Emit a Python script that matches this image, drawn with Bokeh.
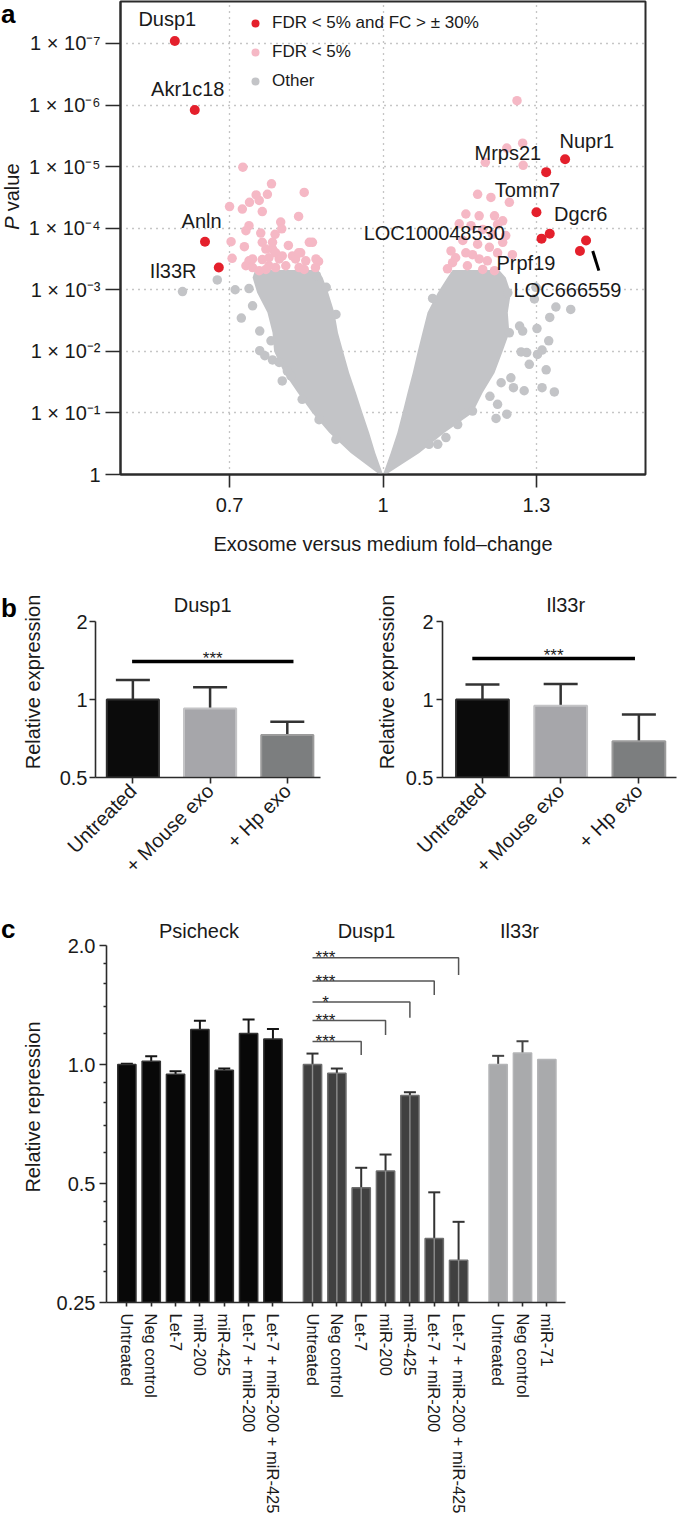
import math
from bokeh.plotting import figure
from bokeh.models import (Range1d, FixedTicker, Legend, LegendItem, Whisker,
                          TeeHead, ColumnDataSource)
from bokeh.layouts import column, row
from bokeh.embed import file_html
from bokeh.resources import INLINE
from bokeh.core.properties import value

FONT = "Liberation Sans"
RED = "#e4202c"
PINK = "#f5b8c5"
GRAY = "#c3c4c7"
AXIS = "#2b2b2b"
TXT = "#1a1a1a"

# ---------------- Panel a data (fold change, -log10 P) ----------------
red_gene = ["Dusp1", "Akr1c18", "Anln", "Il33R", "Nupr1", "Mrps21", "Tomm7",
            "Dgcr6", "LOC100048530", "Prpf19", "LOC666559"]
red_fc = [0.593, 0.632, 0.652, 0.679, 1.356, 1.319, 1.300, 1.326, 1.310, 1.385, 1.397]
red_mlog10p = [7.04, 5.92, 3.78, 3.36, 5.12, 4.91, 4.26, 3.91, 3.83, 3.63, 3.80]

pink_fc = [0.726, 0.782, 0.846, 0.774, 0.752, 0.739, 0.758, 0.700, 0.725, 0.764,
           0.835, 0.800, 0.738, 0.732, 0.802, 0.789, 0.761, 0.703, 0.729, 0.815,
           0.856, 0.705, 0.738, 0.764, 0.784, 0.797, 0.823, 0.839, 0.874, 0.849,
           0.732, 0.745, 0.777, 0.810, 0.836, 0.758, 0.771, 0.790, 0.803, 0.777,
           0.829, 0.862, 0.764, 0.784, 0.790, 0.846, 0.868, 0.771, 0.745, 0.869,
           0.835,
           1.262, 1.242, 1.273, 1.200, 1.274, 1.185, 1.211, 1.247, 1.162, 1.188,
           1.218, 1.234, 1.149, 1.172, 1.195, 1.214, 1.240, 1.156, 1.185, 1.208,
           1.133, 1.162, 1.188, 1.136, 1.165, 1.195, 1.218, 1.126, 1.224, 1.234,
           1.253, 1.142, 1.175, 1.204, 1.224]
pink_mlog10p = [4.99, 4.72, 4.58, 4.55, 4.54, 4.42, 4.45, 4.35, 4.31, 4.27,
                4.19, 4.10, 4.04, 3.96, 3.99, 3.90, 3.92, 3.78, 3.70, 3.72,
                3.77, 3.51, 3.47, 3.49, 3.66, 3.50, 3.55, 3.60, 3.46, 3.47,
                3.39, 3.36, 3.39, 3.39, 3.36, 3.31, 3.66, 3.60, 3.55, 3.52,
                3.50, 3.77, 3.77, 3.77, 3.36, 3.33, 3.36, 3.33, 3.50, 3.50,
                3.60,
                6.07, 5.30, 5.38, 5.07, 5.02, 4.55, 4.50, 4.42, 4.23, 4.20,
                4.20, 4.12, 4.07, 4.04, 3.98, 3.90, 3.88, 3.80, 3.74, 3.69,
                3.63, 3.60, 3.50, 3.44, 3.39, 3.33, 3.31, 3.34, 3.60, 3.77,
                3.57, 3.52, 3.57, 3.47, 4.06]

# sparse "Other" genes around the dense cloud
gray_fc = [0.608, 0.676, 0.711, 0.738, 0.745, 0.723, 0.759, 0.759, 0.769, 0.784,
           0.781, 0.803, 0.820, 0.908, 0.889, 0.870, 0.797, 0.813, 0.842, 0.875, 0.908,
           1.097, 1.338, 1.367, 1.326, 1.301, 1.324, 1.302, 1.286, 1.319, 1.335,
           1.311, 1.276, 1.255, 1.250, 1.231, 1.224, 1.242, 1.221, 1.209, 1.267,
           1.247, 1.270, 1.123, 1.107, 1.090, 1.156, 1.175, 1.146, 1.296, 1.244,
           1.299, 1.311, 1.281, 1.273]
gray_mlog10p = [2.97, 3.16, 3.00, 3.02, 2.74, 2.54, 2.33, 2.01, 1.93, 1.86,
                2.17, 1.52, 1.60, 2.60, 3.04, 3.23, 1.82, 1.68, 1.22, 0.89, 0.57,
                2.86, 2.72, 2.68, 2.55, 2.37, 2.17, 1.95, 1.79, 1.70, 1.34,
                1.41, 1.36, 1.41, 1.57, 1.49, 1.14, 0.98, 0.91, 1.27, 2.41,
                2.30, 1.99, 0.60, 0.49, 0.49, 1.00, 1.03, 0.81, 2.85, 2.95,
                3.04, 2.02, 1.98, 2.33]

# dense core of the "Other" cloud: edges of each arm at given -log10 P
core_mlog10p = [0.0, 0.35, 0.68, 1.0, 1.33, 1.65, 2.0, 2.3, 2.63, 2.95, 3.2, 3.32]
core_left_lo = [0.993, 0.937, 0.895, 0.862, 0.833, 0.807, 0.787, 0.784, 0.774, 0.754, 0.745, 0.750]
core_left_hi = [1.000, 0.985, 0.973, 0.960, 0.947, 0.934, 0.922, 0.912, 0.905, 0.893, 0.882, 0.872]
core_right_lo = [1.000, 1.015, 1.028, 1.038, 1.048, 1.058, 1.068, 1.077, 1.087, 1.107, 1.126, 1.136]
core_right_hi = [1.006, 1.071, 1.120, 1.175, 1.195, 1.218, 1.234, 1.247, 1.244, 1.250, 1.240, 1.227]

leader_fc = [1.410, 1.422]
leader_mlog10p = [3.63, 3.31]

a_xticks = [0.7, 1.0, 1.3]
a_xtick_labels = ["0.7", "1", "1.3"]
a_yticks = [0, 1, 2, 3, 4, 5, 6, 7]
a_ytick_labels = ["1", "1 \u00d7 10\u207b\u00b9", "1 \u00d7 10\u207b\u00b2", "1 \u00d7 10\u207b\u00b3",
                  "1 \u00d7 10\u207b\u2074", "1 \u00d7 10\u207b\u2075", "1 \u00d7 10\u207b\u2076",
                  "1 \u00d7 10\u207b\u2077"]
legend_labels = ["FDR < 5% and FC > \u00b1 30%", "FDR < 5%", "Other"]

# ---------------- Panel b data ----------------
b_categories = ["Untreated", "+ Mouse exo", "+ Hp exo"]
b_dusp1_mean = [1.0, 0.923, 0.730]
b_dusp1_upper = [1.19, 1.116, 0.822]
b_il33r_mean = [1.0, 0.946, 0.690]
b_il33r_upper = [1.143, 1.149, 0.875]
b_sig_text = "***"

# ---------------- Panel c data ----------------
c_groups = ["Psicheck", "Dusp1", "Il33r"]
c_labels = [["Untreated", "Neg control", "Let-7", "miR-200", "miR-425",
             "Let-7 + miR-200", "Let-7 + miR-200 + miR-425"],
            ["Untreated", "Neg control", "Let-7", "miR-200", "miR-425",
             "Let-7 + miR-200", "Let-7 + miR-200 + miR-425"],
            ["Untreated", "Neg control", "miR-71"]]
c_mean = [[1.0, 1.02, 0.945, 1.226, 0.967, 1.198, 1.16],
          [1.0, 0.95, 0.488, 0.538, 0.835, 0.363, 0.32],
          [1.0, 1.07, 1.03]]
c_upper = [[1.005, 1.05, 0.962, 1.29, 0.977, 1.30, 1.23],
           [1.066, 0.977, 0.548, 0.592, 0.851, 0.475, 0.40],
           [1.052, 1.145, None]]
# significance brackets in the Dusp1 group: compared bar index, star text, line level, drop end
c_sig_target = [2, 3, 4, 5, 6]
c_sig_text = ["***", "***", "*", "***", "***"]
c_sig_level = [1.143, 1.292, 1.439, 1.626, 1.863]
c_sig_drop = [1.057, 1.188, 1.314, 1.499, 1.684]


def style_axis(ax, size="20px"):
    ax.axis_line_color = AXIS
    ax.axis_line_width = 1.6
    ax.major_tick_line_color = AXIS
    ax.major_tick_line_width = 1.6
    ax.minor_tick_line_color = None
    ax.major_tick_in = 0
    ax.major_label_text_font = FONT
    ax.major_label_text_font_size = size
    ax.major_label_text_color = TXT
    ax.axis_label_text_font = FONT
    ax.axis_label_text_font_size = "20px"
    ax.axis_label_text_font_style = "normal"
    ax.axis_label_text_color = TXT


def side_fig(w, h):
    """Narrow strip (coordinates in px, y downwards) holding a panel letter."""
    f = figure(width=w, height=h, x_range=Range1d(0, w), y_range=Range1d(h, 0),
               output_backend="svg", toolbar_location=None, min_border=0,
               x_axis_location=None, y_axis_location=None)
    f.outline_line_color = None
    f.xgrid.visible = False
    f.ygrid.visible = False
    return f


def add_letter(f, txt, baseline):
    f.text(x=[0.5], y=[baseline], text=[txt], text_font=value(FONT), text_font_size=value("26px"),
           text_font_style="bold", text_color="black", text_align="left", text_baseline="alphabetic")


# ======================= Panel a =======================
la = side_fig(24, 566)
add_letter(la, "a", 15)
la.text(x=[11], y=[273], text=["P"], angle=math.pi / 2, text_font=value(FONT),
        text_font_size=value("20px"), text_font_style="italic", text_color=TXT,
        text_align="left", text_baseline="middle")
la.text(x=[11], y=[251], text=["value"], angle=math.pi / 2, text_font=value(FONT),
        text_font_size=value("20px"), text_color=TXT, text_align="left", text_baseline="middle")

pa = figure(width=653, height=566, x_range=Range1d(0.4868, 1.5132), y_range=Range1d(0, 7.681),
            output_backend="svg", toolbar_location=None,
            min_border_left=96, min_border_right=32, min_border_top=1, min_border_bottom=92)
pa.outline_line_color = AXIS
pa.outline_line_width = 2
style_axis(pa.xaxis[0])
style_axis(pa.yaxis[0])
pa.xaxis.axis_line_width = 2
pa.yaxis.axis_line_width = 2
pa.xaxis.ticker = FixedTicker(ticks=a_xticks)
pa.xaxis.major_label_overrides = dict(zip(a_xticks, a_xtick_labels))
pa.xaxis.major_tick_out = 13
pa.xaxis.major_label_standoff = 10
pa.xaxis.axis_label = "Exosome versus medium fold\u2013change"
pa.xaxis.axis_label_standoff = 18
pa.yaxis.ticker = FixedTicker(ticks=a_yticks)
pa.yaxis.major_label_overrides = dict(zip(a_yticks, a_ytick_labels))
pa.yaxis.major_tick_out = 15
pa.yaxis.major_label_standoff = 5
pa.xgrid.ticker = FixedTicker(ticks=a_xticks)
pa.ygrid.ticker = FixedTicker(ticks=a_yticks[1:])
for g in (pa.xgrid[0], pa.ygrid[0]):
    g.grid_line_color = "#8c8c8c"
    g.grid_line_dash = "1 5"
    g.grid_line_width = 1.3

pa.harea(y=core_mlog10p, x1=core_left_lo, x2=core_left_hi, fill_color=GRAY)
pa.harea(y=core_mlog10p, x1=core_right_lo, x2=core_right_hi, fill_color=GRAY)
r_gray = pa.scatter(gray_fc, gray_mlog10p, size=9.5, fill_color=GRAY, line_color=None)
r_pink = pa.scatter(pink_fc, pink_mlog10p, size=9.5, fill_color=PINK, line_color=None)
r_red = pa.scatter(red_fc, red_mlog10p, size=10, fill_color=RED, line_color=None)
pa.line(leader_fc, leader_mlog10p, line_color="black", line_width=3)

# label offsets (px) relative to each labelled point
label_offsets = {"Dusp1": (-7.5, -22.3, "center"), "Akr1c18": (-7, -21, "center"),
                 "Anln": (-3.4, -20.3, "center"), "Il33R": (-22.3, 3.3, "right"),
                 "Nupr1": (21.7, -18.4, "center"), "Mrps21": (-38.3, -19, "center"),
                 "Tomm7": (-9, -21.7, "center"), "Dgcr6": (31, -19.3, "center"),
                 "LOC100048530": (-36.7, -6, "right"), "Prpf19": (-54, 11.7, "center"),
                 "LOC666559": (-18.6, 49.6, "center")}
for align in ("center", "right"):
    idx = [i for i, g in enumerate(red_gene) if label_offsets[g][2] == align]
    src = ColumnDataSource(dict(x=[red_fc[i] for i in idx], y=[red_mlog10p[i] for i in idx],
                                t=[red_gene[i] for i in idx],
                                dx=[label_offsets[red_gene[i]][0] for i in idx],
                                dy=[label_offsets[red_gene[i]][1] for i in idx]))
    pa.text(x="x", y="y", text="t", x_offset="dx", y_offset="dy", source=src,
            text_font=value(FONT), text_font_size=value("20px"), text_color=TXT,
            text_align=align, text_baseline="middle")

legend = Legend(items=[LegendItem(label=legend_labels[0], renderers=[r_red]),
                       LegendItem(label=legend_labels[1], renderers=[r_pink]),
                       LegendItem(label=legend_labels[2], renderers=[r_gray])],
                location=(125, 383), orientation="vertical")
legend.label_text_font = FONT
legend.label_text_font_size = "17px"
legend.label_text_color = TXT
legend.glyph_width = 20
legend.glyph_height = 20
legend.label_height = 20
legend.label_standoff = 7
legend.spacing = 9
legend.padding = 0
legend.margin = 0
legend.border_line_color = None
legend.background_fill_alpha = 0
pa.add_layout(legend)


# ======================= Panel b =======================
B_TOP = 2.736  # frame extends above the axis to hold the title


def make_b(title, mean, upper, width, left, right, xr, sig_span, sig_level, title_dx,
           label_standoff, tick_standoff):
    p = figure(width=width, height=330, x_range=Range1d(*xr), y_range=Range1d(0.5, B_TOP),
               y_axis_type="log", output_backend="svg", toolbar_location=None,
               min_border_left=left, min_border_right=right, min_border_top=20, min_border_bottom=119)
    p.outline_line_color = None
    p.xgrid.visible = False
    p.ygrid.visible = False
    style_axis(p.xaxis[0])
    style_axis(p.yaxis[0])
    xs = list(range(len(b_categories)))
    p.xaxis.ticker = FixedTicker(ticks=xs)
    p.xaxis.major_label_overrides = dict(zip(xs, b_categories))
    p.xaxis.major_label_orientation = math.pi / 4
    p.xaxis.major_tick_out = 6
    p.xaxis.major_label_standoff = 4
    p.yaxis.ticker = FixedTicker(ticks=[0.5, 1, 2])
    p.yaxis.bounds = (0.5, 2)
    p.yaxis.major_label_overrides = {0.5: "0.5", 1: "1", 2: "2"}
    p.yaxis.major_tick_out = 6
    p.yaxis.major_label_standoff = tick_standoff
    p.yaxis.axis_label = "Relative expression"
    p.yaxis.axis_label_standoff = label_standoff
    p.vbar(x=xs, top=mean, bottom=0.5, width=0.675,
           fill_color=["#0b0b0b", "#a6a6aa", "#7c7e7f"],
           line_color=["#2e2e2e", "#c4c4c6", "#9b9b9b"], line_width=2)
    src = ColumnDataSource(dict(base=xs, lower=mean, upper=upper))
    p.add_layout(Whisker(base="base", lower="lower", upper="upper", source=src,
                         line_color="#333333", line_width=2.5, lower_head=None,
                         upper_head=TeeHead(size=34, line_color="#333333", line_width=2.5)))
    p.line(sig_span, [sig_level, sig_level], line_color="black", line_width=3.5)
    p.text(x=[sum(sig_span) / 2], y=[sig_level], text=[b_sig_text], y_offset=-3,
           text_font=value(FONT), text_font_size=value("17px"), text_color=TXT,
           text_align="center", text_baseline="alphabetic")
    p.text(x=[1], y=[2], text=[title], x_offset=title_dx, y_offset=-16.4,
           text_font=value(FONT), text_font_size=value("20px"), text_color=TXT,
           text_align="center", text_baseline="alphabetic")
    return p


lb = side_fig(18, 330)
add_letter(lb, "b", 37.7)
pb1 = make_b("Dusp1", b_dusp1_mean, b_dusp1_upper, 319, 75, 17, (-0.484, 2.43),
             [-0.01, 2.08], 1.404, -7.4, 13, 2)
pb2 = make_b("Il33r", b_il33r_mean, b_il33r_upper, 340, 105, 1, (-0.511, 2.481),
             [-0.13, 1.95], 1.442, 5, 5, 3)

# ======================= Panel c =======================
GROUP_STEP = 7.625
C_TOP = 2.439  # frame extends above the axis to hold the titles
lc = side_fig(18, 620)
add_letter(lc, "c", 27.7)
pc = figure(width=659, height=620, x_range=Range1d(-0.836, 18.016), y_range=Range1d(0.25, C_TOP),
            y_axis_type="log", output_backend="svg", toolbar_location=None,
            min_border_left=87, min_border_right=112, min_border_top=15, min_border_bottom=213)
pc.outline_line_color = None
pc.xgrid.visible = False
pc.ygrid.visible = False
style_axis(pc.xaxis[0], "16.5px")
style_axis(pc.yaxis[0])

positions = [[g * GROUP_STEP + i for i in range(len(c_labels[g]))] for g in range(len(c_groups))]
all_pos = [x for grp in positions for x in grp]
all_lab = [l for grp in c_labels for l in grp]
pc.xaxis.ticker = FixedTicker(ticks=all_pos)
pc.xaxis.major_label_overrides = dict(zip(all_pos, all_lab))
pc.xaxis.major_label_orientation = "vertical"
pc.xaxis.major_tick_out = 4
pc.xaxis.major_label_standoff = 7
pc.yaxis.ticker = FixedTicker(ticks=[0.25, 0.5, 1, 2],
                              minor_ticks=[0.3, 0.35, 0.4, 0.45, 0.6, 0.7, 0.8, 0.9, 1.2, 1.4, 1.6, 1.8])
pc.yaxis.bounds = (0.25, 2)
pc.yaxis.major_label_overrides = {0.25: "0.25", 0.5: "0.5", 1: "1.0", 2: "2.0"}
pc.yaxis.major_tick_out = 7
pc.yaxis.minor_tick_out = 3
pc.yaxis.minor_tick_in = 0
pc.yaxis.minor_tick_line_color = AXIS
pc.yaxis.minor_tick_line_width = 1.3
pc.yaxis.major_label_standoff = 4
pc.yaxis.axis_label = "Relative repression"
pc.yaxis.axis_label_standoff = 10

bar_fill = ["#080808", "#404040", "#a9aaac"]
bar_line = ["#333333", "#6e6e6e", "#b4b5b7"]
err_col = ["#151515", "#333333", "#444444"]
for g in range(len(c_groups)):
    pc.vbar(x=positions[g], top=c_mean[g], bottom=0.25, width=0.75,
            fill_color=bar_fill[g], line_color=bar_line[g], line_width=1.5)
    if g == 1:
        pc.segment(x0=positions[g], y0=[0.25] * len(positions[g]), x1=positions[g], y1=c_mean[g],
                   line_color="#8d8d8d", line_width=1.4)
    idx = [i for i, u in enumerate(c_upper[g]) if u is not None]
    src = ColumnDataSource(dict(base=[positions[g][i] for i in idx],
                                lower=[c_mean[g][i] for i in idx],
                                upper=[c_upper[g][i] for i in idx]))
    pc.add_layout(Whisker(base="base", lower="lower", upper="upper", source=src,
                          line_color=err_col[g], line_width=2, lower_head=None,
                          upper_head=TeeHead(size=12, line_color=err_col[g], line_width=2)))

x_ref = positions[1][0]
pc.multi_line(xs=[[x_ref, positions[1][t], positions[1][t]] for t in c_sig_target],
              ys=[[lv, lv, dr] for lv, dr in zip(c_sig_level, c_sig_drop)],
              line_color="#555555", line_width=1.5)
pc.text(x=[x_ref] * len(c_sig_text), y=c_sig_level, text=c_sig_text, x_offset=13, y_offset=0,
        text_font=value(FONT), text_font_size=value("17px"), text_color=TXT,
        text_align="center", text_baseline="alphabetic")

title_dx = [-1, -19, -3]
title_x = [(positions[g][0] + positions[g][-1]) / 2 for g in range(len(c_groups))]
pc.text(x=title_x, y=[2] * len(c_groups), text=c_groups, x_offset=title_dx, y_offset=-15,
        text_font=value(FONT), text_font_size=value("20px"), text_color=TXT,
        text_align="center", text_baseline="alphabetic")

layout = column(row(la, pa), row(lb, pb1, pb2), row(lc, pc))
open("out.html", "w").write(file_html(layout, INLINE))
